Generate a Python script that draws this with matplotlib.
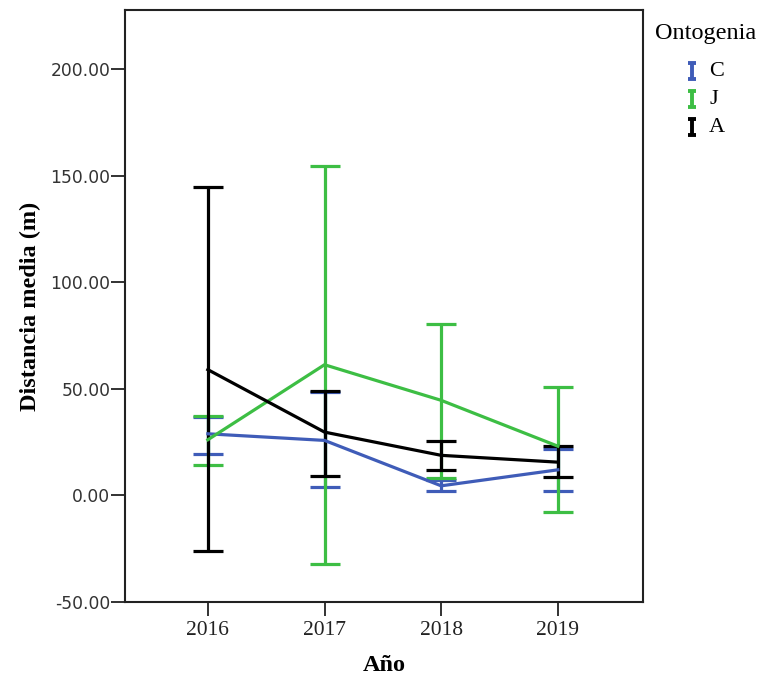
import matplotlib
matplotlib.use("Agg")
import matplotlib.pyplot as plt
from matplotlib.path import Path
from matplotlib.lines import Line2D

years = ["2016", "2017", "2018", "2019"]
groups = ["C", "J", "A"]
colors = {"C": "#3F5CB8", "J": "#3DBE44", "A": "#000000"}

mean_C = [28.9, 25.8, 4.5, 12.0]
low_C = [19.4, 3.8, 1.9, 1.9]
high_C = [37.0, 48.5, 7.0, 21.9]

mean_J = [26.1, 61.3, 44.6, 23.1]
low_J = [14.1, -32.0, 8.1, -7.8]
high_J = [37.4, 154.7, 80.2, 50.8]

mean_A = [59.0, 29.7, 18.8, 15.6]
low_A = [-26.3, 8.9, 11.7, 8.6]
high_A = [144.6, 48.8, 25.3, 23.1]

data = {"C": (mean_C, low_C, high_C), "J": (mean_J, low_J, high_J), "A": (mean_A, low_A, high_A)}

W, H = 761, 678
fig = plt.figure(figsize=(W/100, H/100), dpi=100)
ax = fig.add_axes([125/W, 1-602/H, (643-125)/W, (602-10)/H])

x = list(range(len(years)))
for g in ["C", "J", "A"]:
    m, lo, hi = data[g]
    yerr = [[mi - l for mi, l in zip(m, lo)], [h - mi for mi, h in zip(m, hi)]]
    ax.errorbar(x, m, yerr=yerr, color=colors[g], lw=2.3, elinewidth=2.3,
                capsize=10.5, capthick=2.3, zorder=3)

ax.set_xlim(-0.71, 3.73)
ax.set_ylim(-50, 227.7)
ax.set_xticks(x)
ax.set_xticklabels(years, fontfamily="Liberation Serif", fontsize=15.5, color="#222222")
ax.set_yticks([-50, 0, 50, 100, 150, 200])
ax.set_yticklabels([f"{v:.2f}" for v in [-50, 0, 50, 100, 150, 200]],
                   fontfamily="DejaVu Sans", fontsize=12.3, color="#333333")
ax.tick_params(axis="both", length=10, width=1.3, color="#222222")
ax.tick_params(axis="x", pad=3.5)
ax.tick_params(axis="y", pad=0.5)
for s in ax.spines.values():
    s.set_linewidth(1.5)
    s.set_color("#222222")

ax.set_xlabel("Año", fontfamily="Liberation Serif", fontweight="bold", fontsize=17.5, labelpad=11)
ax.set_ylabel("Distancia media (m)", fontfamily="Liberation Serif", fontweight="bold", fontsize=17.5, labelpad=7)

# legend
ipath = Path([(-0.5, 1), (0.5, 1), (0, 1), (0, -1), (-0.5, -1), (0.5, -1)],
             [Path.MOVETO, Path.LINETO, Path.MOVETO, Path.LINETO, Path.MOVETO, Path.LINETO])
fig.text(655/W, 1-33/H, "Ontogenia", fontfamily="Liberation Serif", fontsize=17.5,
         ha="left", va="center")
for i, g in enumerate(groups):
    yy = 1 - (71 + 28*i)/H
    fig.add_artist(Line2D([692/W], [yy], transform=fig.transFigure, linestyle="none",
                          marker=ipath, markersize=11, markeredgewidth=2.8,
                          markeredgecolor=colors[g], markerfacecolor="none"))
    fig.text(709/W, yy, g, fontfamily="Liberation Serif", fontsize=16,
             ha="left", va="center")

fig.savefig("out.png", dpi=100)
